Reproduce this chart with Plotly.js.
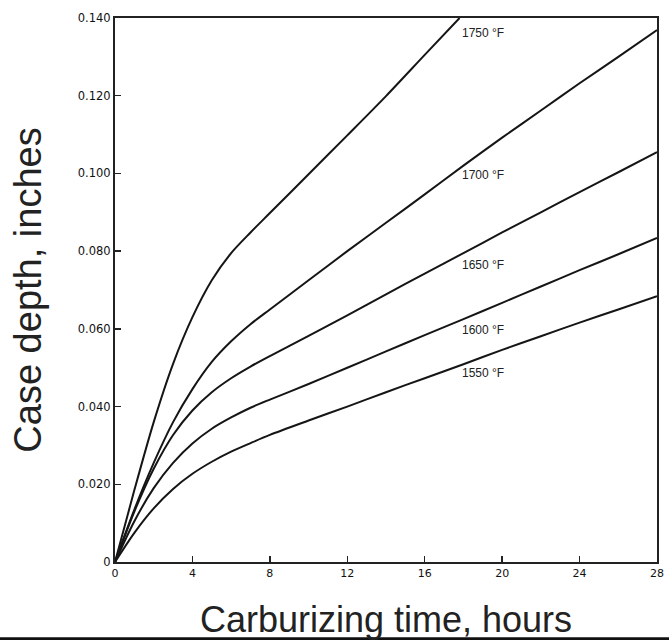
<!DOCTYPE html>
<html>
<head>
<meta charset="utf-8">
<script src="https://cdn.plot.ly/plotly-3.0.1.min.js"></script>
<style>html,body{margin:0;padding:0;background:#fff;}#chart{width:669px;height:640px;}</style>
</head>
<body>
<div id="chart"></div>
<script>
// Data
const seriesNames = ["1750 °F", "1700 °F", "1650 °F", "1600 °F", "1550 °F"];

const time1750 = [0, 1, 2, 3, 4, 5, 6, 7, 8, 10, 12, 14, 16, 17.8];
const depth1750 = [0, 0.0185, 0.036, 0.051, 0.063, 0.0725, 0.0795, 0.0848, 0.0898, 0.0998, 0.1098, 0.1199, 0.1305, 0.140];

const timeStd = [0, 1, 2, 3, 4, 5, 6, 7, 8, 10, 12, 14, 16, 18, 20, 22, 24, 26, 28];
const depth1700 = [0, 0.0135, 0.0255, 0.0360, 0.0445, 0.0515, 0.0568, 0.0612, 0.0650, 0.0725, 0.0800, 0.0873, 0.0946, 0.1020, 0.1092, 0.1162, 0.1232, 0.1300, 0.1369];
const depth1650 = [0, 0.0130, 0.0240, 0.0327, 0.0390, 0.0437, 0.0473, 0.0503, 0.0530, 0.0582, 0.0635, 0.0689, 0.0742, 0.0795, 0.0848, 0.0900, 0.0952, 0.1003, 0.1055];
const depth1600 = [0, 0.0105, 0.0190, 0.0255, 0.0305, 0.0343, 0.0372, 0.0397, 0.0418, 0.0458, 0.0500, 0.0542, 0.0584, 0.0625, 0.0667, 0.0709, 0.0751, 0.0792, 0.0834];
const depth1550 = [0, 0.0075, 0.0138, 0.0188, 0.0227, 0.0258, 0.0284, 0.0306, 0.0327, 0.0364, 0.0400, 0.0437, 0.0473, 0.0509, 0.0546, 0.0581, 0.0616, 0.0650, 0.0684];

// Label anchor positions (data units)
const labelTimes = [17.8, 17.8, 17.8, 17.8, 17.8];
const labelDepths = [0.1362, 0.0996, 0.0765, 0.0597, 0.0487];

const xTickVals = [0, 4, 8, 12, 16, 20, 24, 28];
const xTickText = ["0", "4", "8", "12", "16", "20", "24", "28"];
const yTickVals = [0, 0.02, 0.04, 0.06, 0.08, 0.10, 0.12, 0.14];
const yTickText = ["0", "0.020", "0.040", "0.060", "0.080", "0.100", "0.120", "0.140"];

const xs = [time1750, timeStd, timeStd, timeStd, timeStd];
const ys = [depth1750, depth1700, depth1650, depth1600, depth1550];

const traces = seriesNames.map((n, i) => ({
  x: xs[i], y: ys[i], name: n, type: "scatter", mode: "lines",
  line: {color: "#151515", width: 2, shape: "spline", smoothing: 0.8},
  hoverinfo: "skip"
}));

const annotations = seriesNames.map((n, i) => ({
  x: labelTimes[i], y: labelDepths[i], xref: "x", yref: "y",
  text: n, showarrow: false, xanchor: "left", yanchor: "middle",
  font: {family: "Liberation Sans, Arial", size: 12, color: "#222"}
}));

const layout = {
  width: 669, height: 640,
  margin: {l: 115, r: 12, t: 18, b: 78},
  paper_bgcolor: "#fff", plot_bgcolor: "#fff",
  showlegend: false,
  xaxis: {
    range: [0, 28], tickvals: xTickVals, ticktext: xTickText,
    ticks: "inside", ticklen: 6, tickcolor: "#222", tickwidth: 1.5,
    showline: true, linecolor: "#222", linewidth: 2, mirror: true,
    showgrid: false, zeroline: false,
    tickfont: {family: "DejaVu Sans", size: 11, color: "#111"},
    title: {text: "Carburizing time, hours", standoff: 32,
            font: {family: "Liberation Sans, Arial", size: 36, color: "#222"}}
  },
  yaxis: {
    range: [0, 0.14], tickvals: yTickVals, ticktext: yTickText,
    ticks: "inside", ticklen: 6, tickcolor: "#222", tickwidth: 1.5,
    showline: true, linecolor: "#222", linewidth: 2, mirror: true,
    showgrid: false, zeroline: false,
    tickfont: {family: "DejaVu Sans", size: 11.5, color: "#111"},
    title: {text: "Case depth, inches", standoff: 24,
            font: {family: "Liberation Sans, Arial", size: 38, color: "#222"}}
  },
  annotations: annotations,
  shapes: [{type: "line", xref: "paper", yref: "paper", x0: -0.25, x1: 1.05,
            y0: -0.141, y1: -0.141, line: {color: "#111", width: 3}}]
};

Plotly.newPlot("chart", traces, layout, {displayModeBar: false, staticPlot: true});
</script>
</body>
</html>
